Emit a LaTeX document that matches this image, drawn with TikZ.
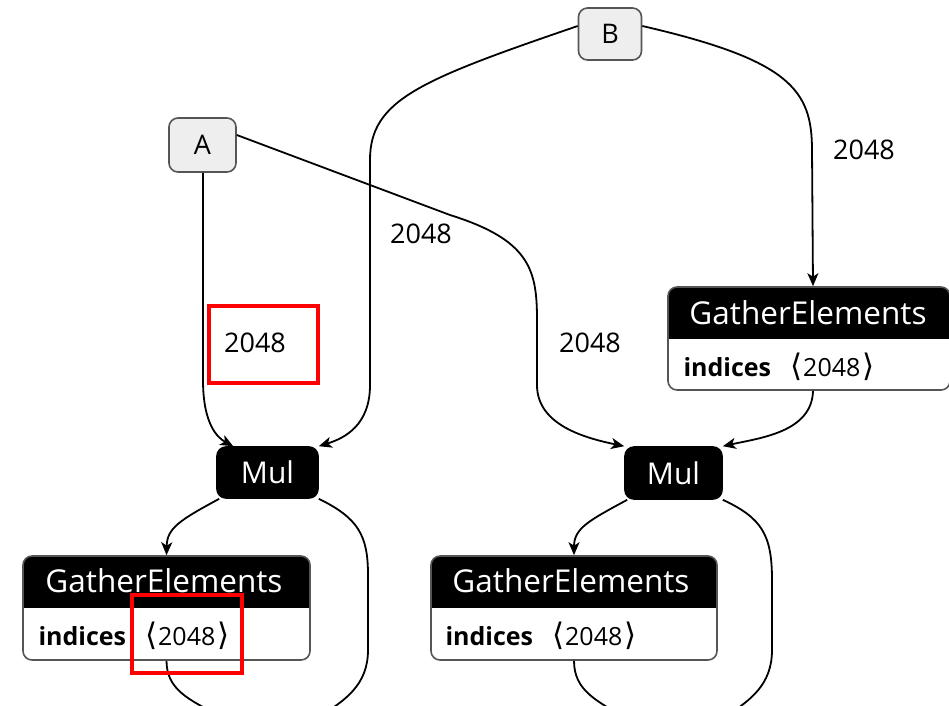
\documentclass[tikz,border=0pt]{standalone}
\usepackage{fontspec}
\setmainfont{Open Sans}
\newfontfamily\symfont{DejaVu Sans}
\usetikzlibrary{arrows.meta,fit}

\definecolor{inputgray}{HTML}{EEEEEE}
\definecolor{framegray}{HTML}{555555}

\tikzset{
  io/.style = {draw = framegray, fill = inputgray, line width = 1.6pt,
               rounded corners = 9pt, font = \fontsize{27}{32}\selectfont},
  op/.style = {draw = black, fill = black, text = white, line width = 1.6pt,
               rounded corners = 9pt, font = \fontsize{30}{36}\selectfont},
  gebox/.style = {draw = framegray, line width = 1.6pt, rounded corners = 9pt,
                  inner sep = 0pt},
  title/.style = {text = white, font = \fontsize{31.5}{38}\selectfont},
  attr/.style = {anchor = west, font = \fontsize{25}{30}\selectfont},
  dim/.style = {font = \fontsize{27}{32}\selectfont},
  edge/.style = {line width = 1.8pt, -{Stealth[length = 13pt, width = 11pt, inset = 3.5pt]}},
  line/.style = {line width = 1.8pt},
  redframe/.style = {draw = red, line width = 3.5pt}
}

\newcommand{\idx}{\textbf{indices}\hspace{19pt}{\symfont\fontsize{31}{36}\selectfont ⟨}\hspace{1pt}2048\hspace{2pt}{\symfont\fontsize{31}{36}\selectfont ⟩}}

\begin{document}
\begin{tikzpicture}[x = 1pt, y = -1pt]
            \useasboundingbox (0, 0) rectangle (949, 705);

            % inputs
            \node [io, minimum width = 63pt, minimum height = 52pt] (B) at (610, 34) {B};
            \node [io, minimum width = 67pt, minimum height = 54pt] (A) at (202.5, 145) {A};

            % Mul nodes
            \node [op, minimum width = 101pt, minimum height = 51pt] (mulL) at (267.5, 472.5) {Mul};
            \node [op, minimum width = 97pt, minimum height = 52pt] (mulR) at (673.5, 473) {Mul};

            % GatherElements boxes
            \begin{scope}
                  \clip [rounded corners = 9pt] (668, 287) rectangle (950, 390);
                  \fill [black] (668, 287) rectangle (950, 339);
            \end{scope}
            \node [gebox, fit = {(668, 287) (950, 390)}] (geTop) {};
            \node [title] (geTopTitle) at (808, 313) {GatherElements};
            \node [attr] (geTopAttr) at (680, 367) {\idx};

            \begin{scope}
                  \clip [rounded corners = 9pt] (23, 556) rectangle (310, 660);
                  \fill [black] (23, 556) rectangle (310, 608);
            \end{scope}
            \node [gebox, fit = {(23, 556) (310, 660)}] (geLeft) {};
            \node [title] (geLeftTitle) at (164, 581) {GatherElements};
            \node [attr] (geLeftAttr) at (35, 636) {\idx};

            \begin{scope}
                  \clip [rounded corners = 9pt] (431, 556) rectangle (717, 660);
                  \fill [black] (431, 556) rectangle (717, 608);
            \end{scope}
            \node [gebox, fit = {(431, 556) (717, 660)}] (geMid) {};
            \node [title] (geMidTitle) at (571, 581) {GatherElements};
            \node [attr] (geMidAttr) at (442, 636) {\idx};

            % off-picture ends
            \coordinate (outL) at (322, 715);
            \coordinate (outLL) at (218, 715);
            \coordinate (outR) at (728, 715);
            \coordinate (outRL) at (620, 715);

            % edges
            \draw [edge] ([yshift = 8pt] B.east) .. controls (790, 60) and (812, 90)
                  .. (812, 150) -- ([xshift = 4pt] geTop.north); % B -> GatherElements
            \draw [edge] ([yshift = 8pt] B.west) .. controls (420, 80) and (370, 100)
                  .. (370, 160) -- (370, 385) .. controls (370, 425) and (345, 438)
                  .. (mulL.north east); % B -> Mul
            \draw [edge] ([xshift = 0.5pt] A.south) -- (203, 380) .. controls (203, 425) and (218, 438)
                  .. ([xshift = 17pt] mulL.north west); % A -> Mul
            \draw [edge] ([yshift = 10pt] A.east) -- (450, 215) .. controls (530, 240) and (537, 270)
                  .. (537, 320) -- (537, 385) .. controls (537, 425) and (585, 438)
                  .. (mulR.north west); % A -> Mul
            \draw [edge] ([xshift = 4pt] geTop.south) .. controls (812, 432) and (760, 438)
                  .. (mulR.north east); % GatherElements -> Mul

            \draw [edge] ([xshift = 3pt] mulL.south west) .. controls (180, 520) and (167, 528)
                  .. (geLeft.north); % Mul -> GatherElements
            \draw [line] (mulL.south east) .. controls (358, 518) and (368, 535)
                  .. (368, 575) -- (368, 650) .. controls (368, 685) and (345, 700) .. (outL);
            \draw [line] (geLeft.south) .. controls (166.5, 690) and (190, 700) .. (outLL);

            \draw [edge] ([xshift = 3pt] mulR.south west) .. controls (590, 520) and (574, 528)
                  .. (geMid.north); % Mul -> GatherElements
            \draw [line] (mulR.south east) .. controls (762, 518) and (772, 535)
                  .. (772, 580) -- (772, 650) .. controls (772, 685) and (750, 700) .. (outR);
            \draw [line] (geMid.south) .. controls (574, 690) and (596, 700) .. (outRL);

            % edge labels
            \node [dim] (lblBTop) at (864, 150) {2048};
            \node [dim] (lblBMul) at (421, 234) {2048};
            \node [dim] (lblAMul) at (255, 343) {2048};
            \node [dim] (lblAMulR) at (590, 343) {2048};

            % highlight frames
            \draw [redframe] (209, 306) rectangle (318, 383);
            \draw [redframe] (132, 595) rectangle (242, 673);
        \end{tikzpicture}
\end{document}
